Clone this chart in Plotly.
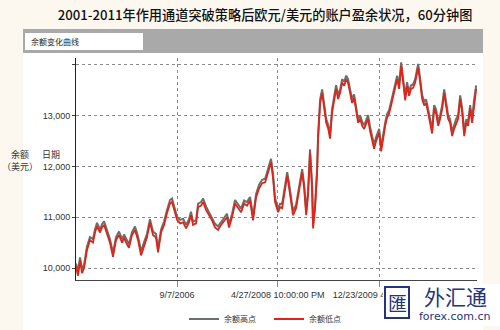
import datetime as dt
import plotly.graph_objects as go

# ---------------- data ----------------
start_date = dt.date(2005, 1, 14)
day_offsets = [
    0, 12, 24, 36, 48, 65, 83, 101, 113, 125,
    143, 155, 167, 184, 202, 220, 238, 256, 274, 286,
    298, 315, 333, 351, 369, 387, 405, 422, 440, 458,
    476, 488, 506, 524, 541, 559, 571, 589, 601, 619,
    637, 655, 672, 684, 696, 714, 726, 744, 756, 774,
    791, 809, 827, 845, 863, 881, 898, 910, 928, 946,
    964, 982, 1000, 1017, 1035, 1053, 1071, 1089, 1107, 1125,
    1142, 1160, 1172, 1184, 1202, 1214, 1226, 1244, 1256, 1267,
    1279, 1291, 1309, 1321, 1333, 1345, 1357, 1369, 1380, 1392,
    1404, 1410, 1422, 1434, 1440, 1452, 1464, 1476, 1488, 1499,
    1511, 1523, 1535, 1547, 1559, 1571, 1583, 1595, 1607, 1618,
    1630, 1642, 1654, 1666, 1678, 1690, 1702, 1714, 1726, 1737,
    1749, 1761, 1773, 1785, 1803, 1815, 1827, 1839, 1850, 1862,
    1874, 1886, 1898, 1910, 1922, 1934, 1946, 1958, 1969, 1981,
    1993, 2005, 2017, 2029, 2035, 2047, 2059, 2071, 2082, 2094,
    2106, 2118, 2130, 2142, 2154, 2166, 2178, 2190, 2201, 2213,
    2225, 2237, 2249, 2261, 2273, 2285, 2297, 2309, 2321, 2332,
    2344, 2356, 2368, 2380,
]
balance_low = [
    10020, 9850, 10150, 9900, 10000, 10350, 10550, 10500, 10700, 10820,
    10700, 10800, 10850, 10690, 10500, 10220, 10550, 10650, 10500, 10600,
    10500, 10400, 10650, 10750, 10550, 10250, 10450, 10600, 10900, 10650,
    10600, 10310, 10700, 10850, 11080, 11270, 11300, 11080, 10950, 10880,
    10900, 10780, 10900, 11040, 10850, 10880, 11200, 11230, 11300, 11140,
    11040, 10940, 10800, 10750, 10850, 10940, 11000, 10800, 11000, 11270,
    11180, 11100, 11270, 11230, 11330, 10940, 11390, 11570, 11670, 11690,
    11880, 12080, 11770, 11300, 11100, 11200, 11180, 11570, 11820, 11590,
    11300, 11040, 11180, 11430, 11630, 11880, 11570, 11040, 11430, 12270,
    11570, 10780, 11180, 11880, 12550, 13250, 13450, 13140, 12860, 12760,
    12550, 13060, 13330, 13530, 13330, 13450, 13650, 13590, 13720, 13650,
    13450, 13250, 13350, 13060, 12860, 12940, 12800, 12740, 12860, 12940,
    12700, 12500, 12350, 12500, 12670, 12300, 12600, 12800, 12960, 13040,
    13200, 13390, 13550, 13720, 13530, 13980, 13650, 13300, 13590, 13390,
    13530, 13550, 13650, 13840, 13950, 13650, 13330, 13200, 13250, 13060,
    12860, 12650, 13140, 13040, 12800, 12940, 13140, 13450, 13200, 12940,
    12860, 12600, 12740, 12860, 12940, 13330, 13060, 12600, 12860, 12800,
    13140, 12860, 13250, 13530,
]
balance_high = [
    10090, 9930, 10210, 9980, 10060, 10420, 10610, 10570, 10760, 10890,
    10760, 10870, 10920, 10750, 10570, 10300, 10610, 10720, 10570, 10660,
    10570, 10470, 10710, 10820, 10620, 10330, 10510, 10670, 10960, 10720,
    10670, 10390, 10760, 10920, 11140, 11340, 11370, 11150, 11010, 10950,
    10970, 10850, 10960, 11110, 10920, 10940, 11270, 11300, 11370, 11210,
    11100, 11010, 10870, 10820, 10910, 11010, 11070, 10870, 11060, 11340,
    11250, 11170, 11330, 11300, 11400, 11020, 11460, 11640, 11740, 11760,
    11950, 12150, 11850, 11380, 11170, 11270, 11260, 11640, 11890, 11670,
    11380, 11120, 11250, 11500, 11700, 11950, 11650, 11120, 11510, 12340,
    11650, 10870, 11260, 11960, 12630, 13320, 13520, 13220, 12940, 12830,
    12630, 13130, 13400, 13600, 13410, 13520, 13720, 13670, 13790, 13720,
    13520, 13330, 13420, 13140, 12930, 13010, 12880, 12810, 12930, 13010,
    12780, 12570, 12430, 12580, 12740, 12380, 12680, 12870, 13030, 13110,
    13270, 13460, 13630, 13790, 13610, 14050, 13720, 13380, 13660, 13470,
    13600, 13620, 13720, 13910, 14020, 13730, 13400, 13280, 13320, 13140,
    12930, 12730, 13210, 13120, 12870, 13010, 13210, 13520, 13280, 13010,
    12930, 12680, 12810, 12940, 13010, 13400, 13140, 12680, 12930, 12870,
    13210, 12940, 13320, 13600,
]
x_tick_dates = ["2006-09-07", "2008-04-27 22:00", "2009-12-23 04:00"]
x_tick_labels = ["9/7/2006", "4/27/2008 10:00:00 PM", "12/23/2009 4:00:00 AM"]
y_tick_values = [10000, 11000, 12000, 13000, 14000]
y_tick_labels = ["10,000", "11,000", "12,000", "13,000", ""]
series_names = ["余额高点", "余额低点"]
title_text = "2001-2011年作用通道突破策略后欧元/美元的账户盈余状况，60分钟图"

dates = [start_date + dt.timedelta(days=d) for d in day_offsets]
x_end = start_date + dt.timedelta(days=2385)

# ---------------- geometry helpers (pixel -> paper) ----------------
W, H = 500, 330
L, R, T, B = 76, 23, 58, 50
PW, PH = W - L - R, H - T - B


def px(x):
    return (x - L) / PW


def py(y):
    return (H - B - y) / PH


CJK = "Noto Sans CJK SC"

fig = go.Figure()
fig.add_trace(go.Scatter(x=dates, y=balance_high, mode="lines", name=series_names[0],
                         line=dict(color="#66736a", width=2.0)))
fig.add_trace(go.Scatter(x=dates, y=balance_low, mode="lines", name=series_names[1],
                         line=dict(color="#e2231a", width=1.8)))

shapes = [
    dict(type="rect", xref="paper", yref="paper", x0=px(23), x1=px(483), y0=py(330), y1=py(53),
         fillcolor="white", line=dict(width=0), layer="below"),
    dict(type="rect", xref="paper", yref="paper", x0=px(23), x1=px(483), y0=py(53), y1=py(29),
         fillcolor="#a9a9a9", line=dict(width=0), layer="below"),
    dict(type="rect", xref="paper", yref="paper", x0=px(25), x1=px(143), y0=py(50), y1=py(33),
         fillcolor="white", line=dict(width=0), layer="below"),
    # watermark background + logo frame
    dict(type="rect", xref="paper", yref="paper", x0=px(383), x1=px(500), y0=py(326), y1=py(284),
         fillcolor="white", line=dict(width=0), layer="above"),
    dict(type="rect", xref="paper", yref="paper", x0=px(385), x1=px(409), y0=py(318), y1=py(287),
         fillcolor="white", line=dict(color="#26347a", width=2), layer="above"),
]


def note(text, x, y, size, color="#333", family=CJK, xanchor="center"):
    return dict(text=text, xref="paper", yref="paper", x=px(x), y=py(y), xanchor=xanchor,
                yanchor="middle", showarrow=False, font=dict(size=size, color=color, family=family))


annotations = [
    note("余额变化曲线", 29, 41.5, 8, "#222", xanchor="left"),
    note("余额", 20, 154, 9),
    note("（美元）", 20, 166, 9),
    note("日期", 51, 154, 9),
    note("匯", 397, 302.5, 19, "#26347a", "Noto Sans CJK TC"),
    note("外汇通", 455, 296, 21, "#26347a"),
    note("forex.com.cn", 455, 316, 11, "#26347a", "DejaVu Sans"),
]

fig.update_layout(
    width=W, height=H,
    margin=dict(l=L, r=R, t=T, b=B, autoexpand=False),
    paper_bgcolor="#fcf8f0",
    plot_bgcolor="white",
    title=dict(text=title_text, x=0.53, y=1 - 15 / H, xanchor="center", yanchor="middle",
               font=dict(size=13.2, color="#111", family=CJK, weight=500)),
    shapes=shapes,
    annotations=annotations,
    showlegend=True,
    legend=dict(orientation="h", x=px(184), y=py(319), xanchor="left", yanchor="middle",
                font=dict(size=8, color="#333", family=CJK),
                bgcolor="rgba(0,0,0,0)", entrywidth=40),
    xaxis=dict(type="date", range=[start_date, x_end], tickvals=x_tick_dates, ticktext=x_tick_labels,
               showgrid=True, gridcolor="#8a8a8a", griddash="dot", gridwidth=1,
               showline=True, linecolor="#444", linewidth=1,
               ticks="outside", ticklen=6, tickcolor="#888",
               tickfont=dict(size=9, color="#333", family="Liberation Sans"), zeroline=False),
    yaxis=dict(range=[9765, 14137], tickvals=y_tick_values, ticktext=y_tick_labels,
               showgrid=True, gridcolor="#8a8a8a", griddash="dot", gridwidth=1,
               showline=True, linecolor="#222", linewidth=1,
               ticks="outside", ticklen=3, tickcolor="#444",
               tickfont=dict(size=9, color="#333", family="Liberation Sans"), zeroline=False),
)

fig.write_html("out.html")
